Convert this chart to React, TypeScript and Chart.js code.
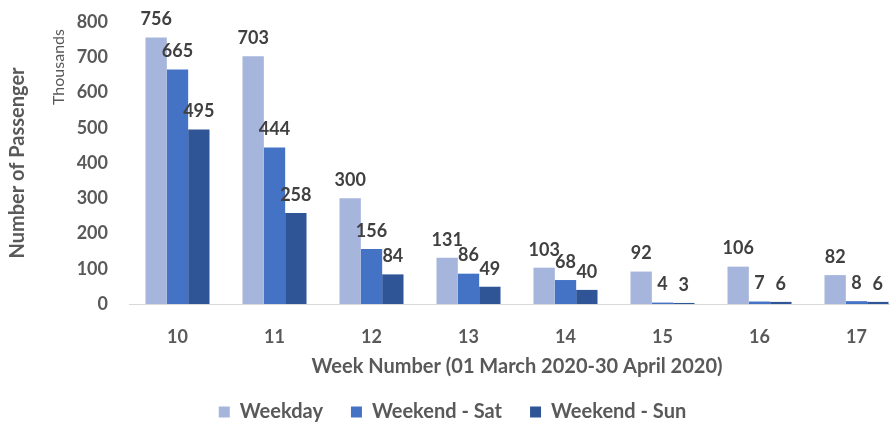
import React, { useEffect, useRef } from "react";
import { Chart, registerables } from "chart.js";

Chart.register(...registerables);

const weeks = ["10", "11", "12", "13", "14", "15", "16", "17"];
const weekday = [756, 703, 300, 131, 103, 92, 106, 82];
const weekendSat = [665, 444, 156, 86, 68, 4, 7, 8];
const weekendSun = [495, 258, 84, 49, 40, 3, 6, 6];
const seriesNames = ["Weekday", "Weekend - Sat", "Weekend - Sun"];
const seriesColors = ["#A6B5DC", "#4472C4", "#2F5597"];
const yMax = 800;
const yStep = 100;
const unitLabel = "Thousands";
const yTitle = "Number of Passenger";
const xTitle = "Week Number (01 March 2020-30 April 2020)";

const FONT = "Lato, 'Open Sans', sans-serif";
const GRAY = "#595959";

const dataLabelPlugin = {
  id: "dataLabels",
  afterDatasetsDraw(chart: any) {
    const ctx = chart.ctx;
    ctx.save();
    ctx.font = `bold 18px ${FONT}`;
    ctx.fillStyle = "#404040";
    ctx.textAlign = "center";
    ctx.textBaseline = "middle";
    chart.data.datasets.forEach((ds: any, i: number) => {
      const meta = chart.getDatasetMeta(i);
      meta.data.forEach((el: any, j: number) => {
        ctx.fillText(String(ds.data[j]), el.x, el.y - 18);
      });
    });
    ctx.restore();
  },
};

const unitPlugin = {
  id: "unitLabel",
  afterDraw(chart: any) {
    const ctx = chart.ctx;
    ctx.save();
    ctx.translate(59, 67);
    ctx.rotate(-Math.PI / 2);
    ctx.font = `normal 16px ${FONT}`;
    ctx.fillStyle = GRAY;
    ctx.textAlign = "center";
    ctx.textBaseline = "middle";
    ctx.fillText(unitLabel, 0, 0);
    ctx.restore();
  },
};

export default function App() {
  const ref = useRef<HTMLCanvasElement | null>(null);

  useEffect(() => {
    if (!ref.current) return;
    const chart = new Chart(ref.current, {
      type: "bar",
      data: {
        labels: weeks,
        datasets: [weekday, weekendSat, weekendSun].map((d, i) => ({
          label: seriesNames[i],
          data: d,
          backgroundColor: seriesColors[i],
          borderWidth: 0,
          categoryPercentage: 0.66,
          barPercentage: 1.0,
        })),
      },
      options: {
        responsive: false,
        animation: false,
        layout: { padding: { left: 0, right: 11, top: 22, bottom: 8 } },
        plugins: {
          tooltip: { enabled: false },
          legend: {
            position: "bottom",
            labels: {
              boxWidth: 11,
              boxHeight: 11,
              padding: 28,
              color: GRAY,
              font: { family: FONT, size: 20, weight: "bold" },
            },
          },
        },
        scales: {
          x: {
            grid: { display: false, drawTicks: false },
            border: { display: true, color: "#D9D9D9", width: 1 },
            ticks: {
              color: GRAY,
              padding: 22,
              font: { family: FONT, size: 18, weight: "bold" },
            },
            title: {
              display: true,
              text: xTitle,
              color: GRAY,
              padding: { top: 0, bottom: -5 },
              font: { family: FONT, size: 20, weight: "bold" },
            },
            afterFit: (s: any) => {
              s.height = 70;
            },
          },
          y: {
            min: 0,
            max: yMax,
            grid: { display: false, drawTicks: true, tickLength: 21 },
            border: { display: false },
            ticks: {
              stepSize: yStep,
              color: GRAY,
              padding: 0,
              font: { family: FONT, size: 18, weight: "bold" },
            },
            title: {
              display: true,
              text: yTitle,
              color: GRAY,
              padding: { top: 6, bottom: 0 },
              font: { family: FONT, size: 20, weight: "bold" },
            },
            afterFit: (s: any) => {
              s.width = 129;
            },
          },
        },
      },
      plugins: [dataLabelPlugin, unitPlugin],
    });
    return () => chart.destroy();
  }, []);

  return (
    <div
      style={{
        position: "fixed",
        left: 0,
        top: 0,
        width: 890,
        height: 429,
        overflow: "hidden",
        background: "#fff",
      }}
    >
      <canvas ref={ref} width={916} height={440} style={{ width: 916, height: 440 }} />
    </div>
  );
}
